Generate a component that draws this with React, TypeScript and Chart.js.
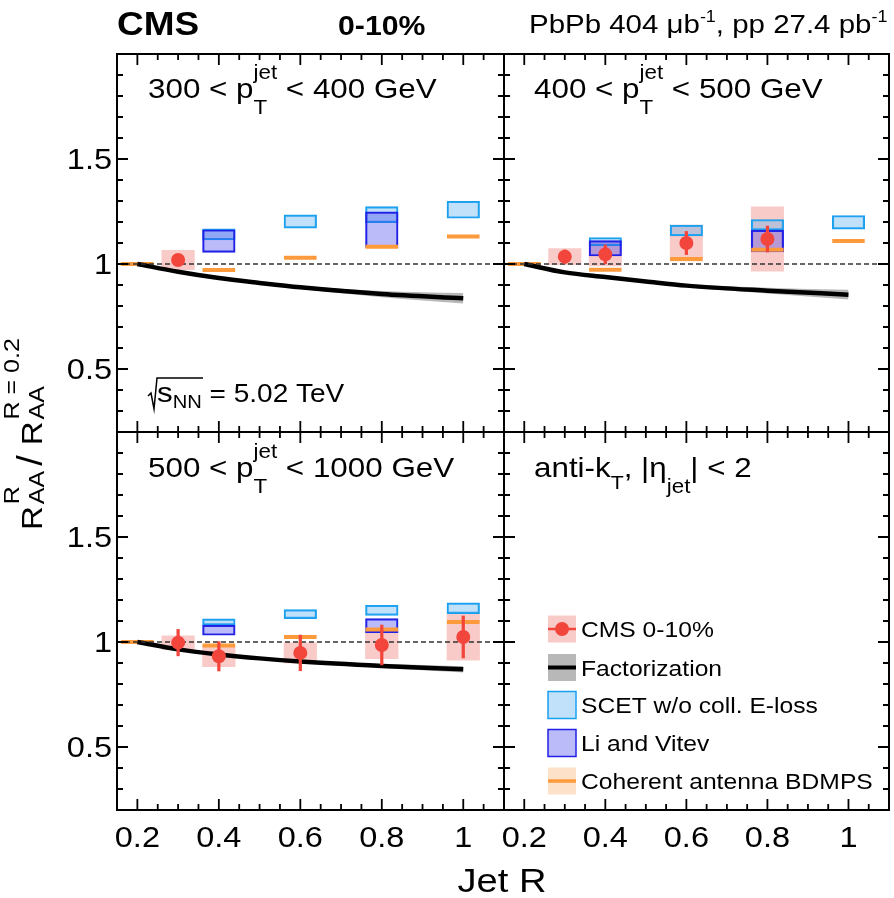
import React, { useEffect, useRef } from 'react';
import { Chart, registerables } from 'chart.js';

Chart.register(...registerables);

// ---------------- axes / ticks ----------------
const X_MIN = 0.15;
const X_MAX = 1.1;
const Y_MIN = 0.2;
const Y_MAX = 2.0;
const X_MAJOR = [0.2, 0.4, 0.6, 0.8, 1.0];
const X_MAJOR_LABELS = ['0.2', '0.4', '0.6', '0.8', '1'];
const X_MINOR = [0.25, 0.3, 0.35, 0.45, 0.5, 0.55, 0.65, 0.7, 0.75, 0.85, 0.9, 0.95, 1.05];
const Y_MAJOR = [0.5, 1.0, 1.5];
const Y_MAJOR_LABELS = ['0.5', '1', '1.5'];
const Y_MINOR = [0.3, 0.4, 0.6, 0.7, 0.8, 0.9, 1.1, 1.2, 1.3, 1.4, 1.6, 1.7, 1.8, 1.9];
const REF_LINE = 1.0;

// ---------------- data ----------------
// Factorization (central value and band half-width)
const FACT_R = [0.2, 0.3, 0.4, 0.5, 0.6, 0.8, 1.0];
const FACT_300 = [1.0, 0.963, 0.933, 0.91, 0.889, 0.857, 0.837];
const FACT_ERR_300 = [0.0, 0.002, 0.004, 0.006, 0.008, 0.015, 0.025];
const FACT_400 = [1.0, 0.96, 0.938, 0.917, 0.897, 0.873, 0.854];
const FACT_ERR_400 = [0.0, 0.002, 0.004, 0.006, 0.008, 0.014, 0.023];
const FACT_500 = [1.0, 0.965, 0.941, 0.922, 0.907, 0.886, 0.87];
const FACT_ERR_500 = [0.0, 0.002, 0.003, 0.005, 0.006, 0.01, 0.015];

// CMS 0-10%
const CMS_R_300 = [0.3];
const CMS_300 = [1.019];
const CMS_STAT_300 = [0.008];
const CMS_SYS_300 = [0.046];
const CMS_R_400 = [0.3, 0.4, 0.6, 0.8];
const CMS_400 = [1.035, 1.046, 1.1, 1.119];
const CMS_STAT_400 = [0.032, 0.045, 0.055, 0.062];
const CMS_SYS_400 = [0.038, 0.055, 0.085, 0.153];
const CMS_R_500 = [0.3, 0.4, 0.6, 0.8, 1.0];
const CMS_500 = [0.997, 0.932, 0.948, 0.986, 1.024];
const CMS_STAT_500 = [0.063, 0.07, 0.085, 0.095, 0.1];
const CMS_SYS_500 = [0.032, 0.05, 0.048, 0.065, 0.11];

// SCET w/o coll. E-loss
const SCET_R = [0.4, 0.6, 0.8, 1.0];
const SCET_LO_300 = [1.115, 1.171, 1.197, 1.218];
const SCET_HI_300 = [1.168, 1.234, 1.273, 1.299];
const SCET_LO_400 = [1.087, 1.134, 1.161, 1.166];
const SCET_HI_400 = [1.126, 1.185, 1.212, 1.231];
const SCET_LO_500 = [1.08, 1.111, 1.127, 1.135];
const SCET_HI_500 = [1.11, 1.154, 1.175, 1.186];

// Li and Vitev
const LI_R = [0.4, 0.8];
const LI_LO_300 = [1.055, 1.079];
const LI_HI_300 = [1.163, 1.248];
const LI_LO_400 = [1.038, 1.058];
const LI_HI_400 = [1.111, 1.161];
const LI_LO_500 = [1.032, 1.045];
const LI_HI_500 = [1.08, 1.111];

// Coherent antenna BDMPS
const ANT_R = [0.2, 0.4, 0.6, 0.8, 1.0];
const ANT_300 = [1.0, 0.971, 1.03, 1.082, 1.131];
const ANT_400 = [1.0, 0.973, 1.024, 1.068, 1.109];
const ANT_500 = [1.0, 0.983, 1.024, 1.06, 1.095];

const LEGEND_LABELS = ['CMS 0-10%', 'Factorization', 'SCET w/o coll. E-loss', 'Li and Vitev', 'Coherent antenna BDMPS'];

// ---------------- styles / layout ----------------
const PAGE_W = 894;
const PAGE_H = 898;
const BOX_W = 0.08; // width of model / syst boxes in R units
const FONT = '"Liberation Sans", Arial, Helvetica, sans-serif';
const SX = 1.12;
const RED = '#f2463d';
const PINK = '#f9cbc8';
const SCET_FILL = 'rgba(90,175,240,0.38)';
const SCET_LINE = '#1aa0f0';
const LI_FILL = 'rgba(60,60,240,0.35)';
const LI_LINE = '#2020e6';
const ORANGE = '#fd9a3c';
const ORANGE_BAND = '#fde1c8';
const GREY_BAND = '#b8b8b8';

type Rect = { left: number; right: number; top: number; bottom: number };
type Seg = {
  t?: string; size: number; bold?: boolean; dy?: number;
  sup?: string; sub?: string; supDy?: number; subDy?: number; supSize?: number; gap?: number;
};

const fontStr = (size: number, bold?: boolean) => `${bold ? 'bold ' : ''}${size}px ${FONT}`;

function segWidth(ctx: CanvasRenderingContext2D, s: Seg) {
  let w = s.gap || 0;
  if (s.t !== undefined) {
    ctx.font = fontStr(s.size, s.bold);
    w += ctx.measureText(s.t).width;
  } else {
    let m = 0;
    if (s.sup) { ctx.font = fontStr(s.supSize ?? s.size, s.bold); m = Math.max(m, ctx.measureText(s.sup).width); }
    if (s.sub) { ctx.font = fontStr(s.size, s.bold); m = Math.max(m, ctx.measureText(s.sub).width); }
    w += m;
  }
  return w;
}

function drawRich(ctx: CanvasRenderingContext2D, x: number, y: number, segs: Seg[], align = 'left', sx = SX) {
  ctx.save();
  ctx.translate(x, y);
  ctx.scale(sx, 1);
  ctx.textAlign = 'left';
  ctx.textBaseline = 'alphabetic';
  const total = segs.reduce((a, s) => a + segWidth(ctx, s), 0);
  let cx = align === 'left' ? 0 : align === 'center' ? -total / 2 : -total;
  for (const s of segs) {
    cx += s.gap || 0;
    if (s.t !== undefined) {
      ctx.font = fontStr(s.size, s.bold);
      ctx.fillText(s.t, cx, s.dy || 0);
      cx += ctx.measureText(s.t).width;
    } else {
      let m = 0;
      if (s.sup) {
        ctx.font = fontStr(s.supSize ?? s.size, s.bold);
        ctx.fillText(s.sup, cx, s.supDy || 0);
        m = Math.max(m, ctx.measureText(s.sup).width);
      }
      if (s.sub) {
        ctx.font = fontStr(s.size, s.bold);
        ctx.fillText(s.sub, cx, s.subDy || 0);
        m = Math.max(m, ctx.measureText(s.sub).width);
      }
      cx += m;
    }
  }
  ctx.restore();
}

const ptLabel = (lo: string, hi: string): Seg[] => [
  { t: `${lo} < p`, size: 28 },
  { sup: 'jet', sub: 'T', size: 20, supDy: -19, subDy: 16 },
  { t: ` < ${hi} GeV`, size: 28 },
];

type Panel = {
  rect: Rect;
  label: Seg[];
  labelPos: [number, number];
  cms?: { r: number[]; v: number[]; stat: number[]; sys: number[] };
  fact?: { v: number[]; e: number[] };
  scet?: { lo: number[]; hi: number[] };
  li?: { lo: number[]; hi: number[] };
  ant?: number[];
  ref: boolean;
  yLabels: boolean;
  xLabels: boolean;
  extra?: 'top' | 'bottom' | 'legend';
};

const PANELS: Panel[] = [
  {
    rect: { left: 117, right: 504, top: 54, bottom: 432 },
    label: ptLabel('300', '400'), labelPos: [148, 98],
    cms: { r: CMS_R_300, v: CMS_300, stat: CMS_STAT_300, sys: CMS_SYS_300 },
    fact: { v: FACT_300, e: FACT_ERR_300 },
    scet: { lo: SCET_LO_300, hi: SCET_HI_300 },
    li: { lo: LI_LO_300, hi: LI_HI_300 },
    ant: ANT_300, ref: true, yLabels: true, xLabels: false, extra: 'top',
  },
  {
    rect: { left: 504, right: 889, top: 54, bottom: 432 },
    label: ptLabel('400', '500'), labelPos: [534, 98],
    cms: { r: CMS_R_400, v: CMS_400, stat: CMS_STAT_400, sys: CMS_SYS_400 },
    fact: { v: FACT_400, e: FACT_ERR_400 },
    scet: { lo: SCET_LO_400, hi: SCET_HI_400 },
    li: { lo: LI_LO_400, hi: LI_HI_400 },
    ant: ANT_400, ref: true, yLabels: false, xLabels: false,
  },
  {
    rect: { left: 117, right: 504, top: 432, bottom: 810 },
    label: ptLabel('500', '1000'), labelPos: [148, 477],
    cms: { r: CMS_R_500, v: CMS_500, stat: CMS_STAT_500, sys: CMS_SYS_500 },
    fact: { v: FACT_500, e: FACT_ERR_500 },
    scet: { lo: SCET_LO_500, hi: SCET_HI_500 },
    li: { lo: LI_LO_500, hi: LI_HI_500 },
    ant: ANT_500, ref: true, yLabels: true, xLabels: true, extra: 'bottom',
  },
  {
    rect: { left: 504, right: 889, top: 432, bottom: 810 },
    label: [
      { t: 'anti-k', size: 28 },
      { sub: 'T', size: 19, subDy: 12 },
      { t: ', |η', size: 28 },
      { sub: 'jet', size: 20, subDy: 16 },
      { t: '| < 2', size: 28 },
    ],
    labelPos: [534, 477],
    ref: false, yLabels: false, xLabels: true, extra: 'legend',
  },
];

function drawLegend(ctx: CanvasRenderingContext2D) {
  const bx = 548, bw = 28, bh = 27;
  const centers = [629, 667.5, 705, 743, 781];
  LEGEND_LABELS.forEach((lab, i) => {
    const cy = centers[i];
    const y0 = cy - bh / 2;
    ctx.save();
    if (i === 0) {
      ctx.fillStyle = PINK; ctx.fillRect(bx, y0, bw, bh);
      ctx.strokeStyle = RED; ctx.lineWidth = 2.5;
      ctx.beginPath(); ctx.moveTo(bx, cy); ctx.lineTo(bx + bw, cy); ctx.stroke();
      ctx.fillStyle = RED; ctx.beginPath(); ctx.arc(bx + bw / 2, cy, 7, 0, Math.PI * 2); ctx.fill();
    } else if (i === 1) {
      ctx.fillStyle = GREY_BAND; ctx.fillRect(bx, y0, bw, bh);
      ctx.strokeStyle = '#000'; ctx.lineWidth = 4;
      ctx.beginPath(); ctx.moveTo(bx, cy); ctx.lineTo(bx + bw, cy); ctx.stroke();
    } else if (i === 2 || i === 3) {
      ctx.fillStyle = i === 2 ? SCET_FILL : LI_FILL; ctx.fillRect(bx, y0, bw, bh);
      ctx.strokeStyle = i === 2 ? SCET_LINE : LI_LINE; ctx.lineWidth = 1.5;
      ctx.strokeRect(bx, y0, bw, bh);
    } else {
      ctx.fillStyle = ORANGE_BAND; ctx.fillRect(bx, y0, bw, bh);
      ctx.strokeStyle = ORANGE; ctx.lineWidth = 3.5;
      ctx.beginPath(); ctx.moveTo(bx, cy); ctx.lineTo(bx + bw, cy); ctx.stroke();
    }
    ctx.fillStyle = '#000';
    drawRich(ctx, 581, cy + 8, [{ t: lab, size: 22 }]);
    ctx.restore();
  });
}

function decorPlugin(p: Panel) {
  return {
    id: 'decor',
    afterDraw(chart: any) {
      const ctx: CanvasRenderingContext2D = chart.ctx;
      const xs = chart.scales.x;
      const ys = chart.scales.y;
      const { left, right, top, bottom } = chart.chartArea;
      ctx.save();
      ctx.strokeStyle = '#000';
      ctx.lineWidth = 1.8;
      ctx.beginPath();
      const xt = (vals: number[], len: number) => vals.forEach((v) => {
        const px = xs.getPixelForValue(v);
        ctx.moveTo(px, bottom); ctx.lineTo(px, bottom - len);
        ctx.moveTo(px, top); ctx.lineTo(px, top + len);
      });
      const yt = (vals: number[], len: number) => vals.forEach((v) => {
        const py = ys.getPixelForValue(v);
        ctx.moveTo(left, py); ctx.lineTo(left + len, py);
        ctx.moveTo(right, py); ctx.lineTo(right - len, py);
      });
      xt(X_MAJOR, 11); xt(X_MINOR, 6);
      yt(Y_MAJOR, 11); yt(Y_MINOR, 6);
      ctx.stroke();
      ctx.lineWidth = 2;
      ctx.strokeRect(left, top, right - left, bottom - top);

      ctx.fillStyle = '#000';
      if (p.yLabels) {
        Y_MAJOR.forEach((v, i) => drawRich(ctx, left - 5, ys.getPixelForValue(v) + 10, [{ t: Y_MAJOR_LABELS[i], size: 29 }], 'right'));
      }
      if (p.xLabels) {
        X_MAJOR.forEach((v, i) => drawRich(ctx, xs.getPixelForValue(v), 847, [{ t: X_MAJOR_LABELS[i], size: 29 }], 'center'));
      }
      drawRich(ctx, p.labelPos[0], p.labelPos[1], p.label);

      if (p.extra === 'top') {
        // header
        drawRich(ctx, 117, 35, [{ t: 'CMS', size: 33, bold: true }]);
        drawRich(ctx, 338, 35, [{ t: '0-10%', size: 27, bold: true }]);
        drawRich(ctx, 529, 33, [
          { t: 'PbPb 404 μb', size: 26.3 }, { t: '-1', size: 16, dy: -11 },
          { t: ', pp 27.4 pb', size: 26.3 }, { t: '-1', size: 16, dy: -11 },
        ]);
        // sqrt(s_NN)
        ctx.lineWidth = 1.5;
        ctx.beginPath();
        ctx.moveTo(148, 396); ctx.lineTo(151, 393); ctx.lineTo(154, 409); ctx.lineTo(157, 378); ctx.lineTo(203, 378);
        ctx.stroke();
        drawRich(ctx, 157, 402, [{ t: 's', size: 28 }, { sub: 'NN', size: 18, subDy: 6 }, { t: ' = 5.02 TeV', size: 25 }]);
        // y-axis title
        ctx.save();
        ctx.translate(42, 530);
        ctx.rotate(-Math.PI / 2);
        ctx.scale(1, 0.9);
        drawRich(ctx, 0, 0, [
          { t: 'R', size: 33 },
          { sup: 'R', sub: 'AA', size: 25, supDy: -26, subDy: 2, gap: 2 },
          { t: '/', size: 38, gap: 5 },
          { t: 'R', size: 33, gap: 10 },
          { sup: 'R = 0.2', supSize: 25, sub: 'AA', size: 25, supDy: -26, subDy: 2, gap: 2 },
        ], 'left', 1);
        ctx.restore();
      }
      if (p.extra === 'bottom') {
        drawRich(ctx, 502, 892, [{ t: 'Jet R', size: 34 }], 'center');
      }
      if (p.extra === 'legend') drawLegend(ctx);
      ctx.restore();
    },
  };
}

function buildConfig(p: Panel): any {
  const ds: any[] = [];
  const pxPerX = (p.rect.right - p.rect.left) / (X_MAX - X_MIN);
  const boxPx = BOX_W * pxPerX;
  if (p.cms) {
    const c = p.cms;
    ds.push({
      type: 'scatter', data: c.r.map((r, i) => ({ x: r, y: c.v[i] })),
      pointRadius: 7, pointHoverRadius: 7, backgroundColor: RED, borderColor: RED,
      pointBackgroundColor: RED, pointBorderWidth: 0, order: 0,
    });
    ds.push({
      type: 'bar', data: c.r.map((r, i) => ({ x: r, y: [c.v[i] - c.stat[i], c.v[i] + c.stat[i]] })),
      backgroundColor: RED, borderWidth: 0, barThickness: 2.6, grouped: false, order: 1,
    });
  }
  if (p.ref) {
    ds.push({
      type: 'line', data: [{ x: X_MIN, y: REF_LINE }, { x: X_MAX, y: REF_LINE }],
      borderColor: '#333', borderWidth: 1.3, borderDash: [5, 3], pointRadius: 0, order: 2,
    });
  }
  if (p.fact) {
    const f = p.fact;
    ds.push({
      type: 'line', data: FACT_R.map((r, i) => ({ x: r, y: f.v[i] })),
      borderColor: '#000', borderWidth: 4.5, pointRadius: 0, cubicInterpolationMode: 'monotone', order: 3,
    });
  }
  if (p.ant) {
    const a = p.ant;
    ds.push({
      type: 'scatter', data: ANT_R.map((r, i) => ({ x: r, y: a[i] })),
      pointStyle: 'line', pointRadius: boxPx / 2, pointHoverRadius: boxPx / 2,
      borderColor: ORANGE, pointBorderColor: ORANGE, borderWidth: 4, pointBorderWidth: 4, order: 4,
    });
  }
  if (p.li) {
    const l = p.li;
    ds.push({
      type: 'bar', data: LI_R.map((r, i) => ({ x: r, y: [l.lo[i], l.hi[i]] })),
      backgroundColor: LI_FILL, borderColor: LI_LINE, borderWidth: 1.5, borderSkipped: false,
      barThickness: boxPx, grouped: false, order: 5,
    });
  }
  if (p.scet) {
    const s = p.scet;
    ds.push({
      type: 'bar', data: SCET_R.map((r, i) => ({ x: r, y: [s.lo[i], s.hi[i]] })),
      backgroundColor: SCET_FILL, borderColor: SCET_LINE, borderWidth: 1.5, borderSkipped: false,
      barThickness: boxPx, grouped: false, order: 6,
    });
  }
  if (p.fact) {
    const f = p.fact;
    ds.push({
      type: 'line', data: FACT_R.map((r, i) => ({ x: r, y: f.v[i] + f.e[i] })),
      fill: '+1', backgroundColor: GREY_BAND, borderWidth: 0, pointRadius: 0,
      cubicInterpolationMode: 'monotone', order: 7,
    });
    ds.push({
      type: 'line', data: FACT_R.map((r, i) => ({ x: r, y: f.v[i] - f.e[i] })),
      fill: false, borderWidth: 0, pointRadius: 0, cubicInterpolationMode: 'monotone', order: 8,
    });
  }
  if (p.cms) {
    const c = p.cms;
    ds.push({
      type: 'bar', data: c.r.map((r, i) => ({ x: r, y: [c.v[i] - c.sys[i], c.v[i] + c.sys[i]] })),
      backgroundColor: PINK, borderWidth: 0, barThickness: boxPx, grouped: false, order: 9,
    });
  }
  return {
    type: 'scatter',
    data: { datasets: ds },
    options: {
      responsive: false,
      maintainAspectRatio: false,
      devicePixelRatio: 1,
      animation: false,
      events: [],
      layout: {
        autoPadding: false,
        padding: {
          left: p.rect.left, top: p.rect.top,
          right: PAGE_W - p.rect.right, bottom: PAGE_H - p.rect.bottom,
        },
      },
      plugins: { legend: { display: false }, tooltip: { enabled: false } },
      scales: {
        x: { type: 'linear', min: X_MIN, max: X_MAX, display: false, offset: false },
        y: { type: 'linear', min: Y_MIN, max: Y_MAX, display: false },
      },
    },
    plugins: [decorPlugin(p)],
  };
}

export default function App() {
  const canvases = useRef<(HTMLCanvasElement | null)[]>([]);
  useEffect(() => {
    const charts = PANELS.map((p, i) => new Chart(canvases.current[i] as HTMLCanvasElement, buildConfig(p)));
    return () => charts.forEach((c) => c.destroy());
  }, []);
  return (
    <div style={{ position: 'absolute', left: 0, top: 0, width: PAGE_W, height: PAGE_H, background: '#fff' }}>
      {PANELS.map((_, i) => (
        <canvas
          key={i}
          ref={(el) => { canvases.current[i] = el; }}
          width={PAGE_W}
          height={PAGE_H}
          style={{ position: 'absolute', left: 0, top: 0 }}
        />
      ))}
    </div>
  );
}
